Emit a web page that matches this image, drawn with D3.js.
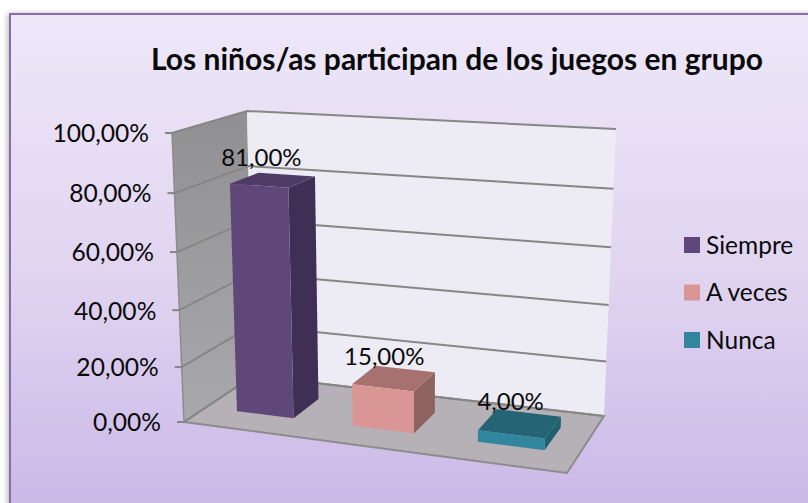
<!DOCTYPE html>
<html>
<head>
<meta charset="utf-8">
<style>
html, body { margin: 0; padding: 0; background: #fff; }
svg { display: block; }
text { font-family: Lato, "Noto Sans", sans-serif; fill: #0a0a0a; }
</style>
</head>
<body>
<div id="chart"></div>
<script src="https://d3js.org/d3.v7.min.js"></script>
<script>
var chartTitle = "Los niños/as participan de los juegos en grupo";
var categories = ["Siempre", "A veces", "Nunca"];
var values = [81, 15, 4];
var tickValues = [0, 20, 40, 60, 80, 100];
var fmt = function(v) { return v.toFixed(2).replace(".", ",") + "%"; };

var faceColors = {
  "Siempre": { front: "#5f4879", side: "#402f55", top: "#4f3c66" },
  "A veces": { front: "#d99694", side: "#8e6260", top: "#a6716f" },
  "Nunca": { front: "#31859c", side: "#205f70", top: "#246474" }
};

var width = 808, height = 503;

// the box the chart sits in, as it lands on screen (front-left, front-right, back-right, back-left)
var floorQuad = [[184, 422], [567, 473], [604, 416], [253, 376]];
var topQuad = [[172, 133], [578, 157], [616, 129], [247, 111]];

// square -> quad homography
function quadMap(q) {
  var x0 = q[0][0], y0 = q[0][1], x1 = q[1][0], y1 = q[1][1],
      x2 = q[2][0], y2 = q[2][1], x3 = q[3][0], y3 = q[3][1];
  var sx = x0 - x1 + x2 - x3, sy = y0 - y1 + y2 - y3,
      dx1 = x1 - x2, dx2 = x3 - x2, dy1 = y1 - y2, dy2 = y3 - y2,
      den = dx1 * dy2 - dx2 * dy1,
      g = (sx * dy2 - dx2 * sy) / den,
      h = (dx1 * sy - sx * dy1) / den,
      a = x1 - x0 + g * x1, b = x3 - x0 + h * x3,
      d = y1 - y0 + g * y1, e = y3 - y0 + h * y3;
  return function(u, v) {
    var w = g * u + h * v + 1;
    return [(a * u + b * v + x0) / w, (d * u + e * v + y0) / w];
  };
}
var floorAt = quadMap(floorQuad), topAt = quadMap(topQuad);

// value axis is foreshortened a bit towards the top
var yScale = d3.scaleLinear().domain(tickValues).range([0, 0.19, 0.387, 0.588, 0.792, 1]);
var xBand = d3.scaleBand().domain(categories).range([0.01, 1]).paddingInner(0.5).paddingOuter(0.25);
var depthBand = d3.scaleBand().domain(["d"]).range([0, 1]).padding(0.4286);

function project(u, v, val) {
  var t = yScale(val), a = floorAt(u, v), b = topAt(u, v);
  return [a[0] + (b[0] - a[0]) * t, a[1] + (b[1] - a[1]) * t];
}
function poly(pts) { return pts.map(function(p) { return p.join(","); }).join(" "); }

var svg = d3.select("#chart").append("svg").attr("width", width).attr("height", height);
var defs = svg.append("defs");

var bgGrad = defs.append("linearGradient").attr("id", "bg").attr("x1", 0).attr("y1", 0).attr("x2", 0).attr("y2", 1);
bgGrad.append("stop").attr("offset", "0%").attr("stop-color", "#eee8f9");
bgGrad.append("stop").attr("offset", "50%").attr("stop-color", "#e0d4f0");
bgGrad.append("stop").attr("offset", "100%").attr("stop-color", "#c7b4e6");

var wallGrad = defs.append("linearGradient").attr("id", "wall").attr("x1", 0).attr("y1", 0).attr("x2", 0).attr("y2", 1);
wallGrad.append("stop").attr("offset", "0%").attr("stop-color", "#908f92");
wallGrad.append("stop").attr("offset", "100%").attr("stop-color", "#a9a8ac");

defs.append("filter").attr("id", "blur").attr("x", "-5%").attr("width", "110%")
  .append("feGaussianBlur").attr("stdDeviation", 3);

// panel
svg.append("rect").attr("x", 8).attr("y", 14).attr("width", 830).attr("height", 530)
  .attr("fill", "#777").attr("opacity", 0.6).attr("filter", "url(#blur)");
svg.append("rect").attr("x", 10).attr("y", 14).attr("width", 830).attr("height", 530)
  .attr("fill", "url(#bg)").attr("stroke", "#8b6bb0").attr("stroke-width", 2);

svg.append("text").attr("x", 457).attr("y", 70).attr("text-anchor", "middle")
  .attr("font-size", 30).attr("font-weight", 700).text(chartTitle);

// walls and floor
svg.append("polygon").attr("fill", "url(#wall)")
  .attr("points", poly([project(0, 0, 0), project(0, 1, 0), project(0, 1, 100), project(0, 0, 100)]));
svg.append("polygon").attr("fill", "#edebf3")
  .attr("points", poly([project(0, 1, 0), project(1, 1, 0), project(1, 1, 100), project(0, 1, 100)]));
svg.append("polygon").attr("fill", "#b5b1b6").attr("stroke", "#8c8c8c").attr("stroke-width", 2)
  .attr("points", poly([project(0, 0, 0), project(1, 0, 0), project(1, 1, 0), project(0, 1, 0)]));

// gridlines wrap round the left wall and the back wall
svg.append("g").selectAll("polyline").data(tickValues).enter().append("polyline")
  .attr("fill", "none").attr("stroke", "#868686").attr("stroke-width", 2)
  .attr("points", function(d) { return poly([project(0, 0, d), project(0, 1, d), project(1, 1, d)]); });

svg.append("line")
  .attr("x1", project(0, 0, 100)[0]).attr("y1", project(0, 0, 100)[1])
  .attr("x2", project(0, 0, 0)[0]).attr("y2", project(0, 0, 0)[1])
  .attr("stroke", "#8c8c8c").attr("stroke-width", 1.5);

// ticks and labels
var tick = svg.append("g").selectAll("g").data(tickValues).enter().append("g")
  .attr("transform", function(d) { var p = project(0, 0, d); return "translate(" + p[0] + "," + p[1] + ")"; });
tick.append("line").attr("x1", -7).attr("x2", 0).attr("stroke", "#868686").attr("stroke-width", 2);
tick.append("text").attr("x", -23).attr("dy", "0.38em").attr("text-anchor", "end")
  .attr("font-size", 24.6).text(fmt);

// bars
var vFront = depthBand("d"), vBack = vFront + depthBand.bandwidth();
var labelNudge = [[3, -7], [9, -1], [14, 1]];

var bar = svg.append("g").selectAll("g").data(categories).enter().append("g");
bar.each(function(name, i) {
  var g = d3.select(this), val = values[i], c = faceColors[name];
  var u0 = xBand(name), u1 = u0 + xBand.bandwidth();
  g.append("polygon").attr("fill", c.side)
    .attr("points", poly([project(u1, vFront, 0), project(u1, vBack, 0), project(u1, vBack, val), project(u1, vFront, val)]));
  g.append("polygon").attr("fill", c.top)
    .attr("points", poly([project(u0, vFront, val), project(u1, vFront, val), project(u1, vBack, val), project(u0, vBack, val)]));
  g.append("polygon").attr("fill", c.front)
    .attr("points", poly([project(u0, vFront, 0), project(u1, vFront, 0), project(u1, vFront, val), project(u0, vFront, val)]));
});

svg.append("g").selectAll("text").data(categories).enter().append("text")
  .attr("text-anchor", "middle").attr("font-size", 24)
  .attr("x", function(d, i) { return project(xBand(d), vBack, values[i])[0] + labelNudge[i][0]; })
  .attr("y", function(d, i) { return project(xBand(d), vBack, values[i])[1] + labelNudge[i][1]; })
  .text(function(d, i) { return fmt(values[i]); });

// legend
var legendY = d3.scalePoint().domain(categories).range([245, 340]);
var legend = svg.append("g").selectAll("g").data(categories).enter().append("g")
  .attr("transform", function(d) { return "translate(684," + legendY(d) + ")"; });
legend.append("rect").attr("y", -8).attr("width", 16).attr("height", 16)
  .attr("fill", function(d) { return faceColors[d].front; });
legend.append("text").attr("x", 22).attr("dy", "0.35em").attr("font-size", 24.5).text(function(d) { return d; });
</script>
</body>
</html>
